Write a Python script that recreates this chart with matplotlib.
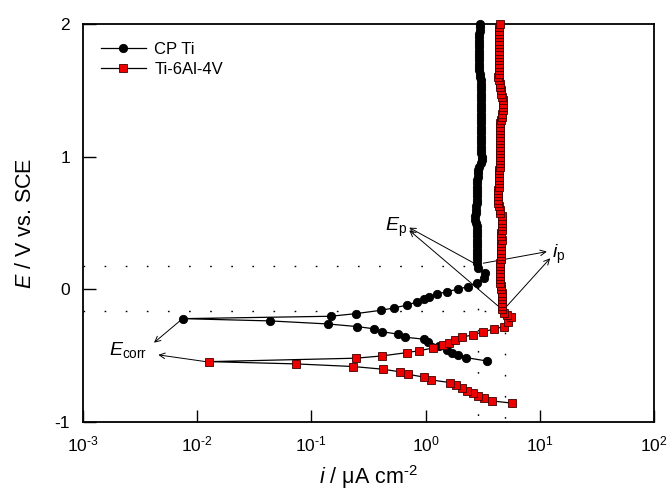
import numpy as np
from matplotlib import pyplot as plt
from matplotlib.ticker import FuncFormatter

plt.rcParams["font.family"] = ["Liberation Sans", "DejaVu Sans"]
plt.rcParams["mathtext.fontset"] = "custom"
plt.rcParams["mathtext.rm"] = "Liberation Sans"
plt.rcParams["mathtext.it"] = "Liberation Sans:italic"
plt.rcParams["axes.unicode_minus"] = False

RED = (0.93, 0.0, 0.0)
BLACK = (0, 0, 0)

# CP Ti, scan order: cathodic branch -> Ecorr -> anodic branch -> passive
cp_cath_E = [-0.540, -0.515, -0.494, -0.481, -0.456, -0.426, -0.394, -0.376, -0.361,
             -0.338, -0.319, -0.298, -0.281, -0.261, -0.238, -0.221]
cp_cath_i = [3.44, 2.27, 1.94, 1.70, 1.54, 1.30, 1.06, 0.978, 0.663,
             0.573, 0.415, 0.357, 0.254, 0.140, 0.0437, 0.0075]
cp_anod_E = [-0.203, -0.183, -0.158, -0.140, -0.118, -0.093, -0.070, -0.055, -0.037,
             -0.017, 0.001, 0.020, 0.050, 0.084, 0.121, 0.159, 0.197]
cp_anod_i = [0.148, 0.247, 0.406, 0.531, 0.695, 0.849, 0.977, 1.07, 1.26,
             1.53, 1.92, 2.34, 2.81, 3.26, 3.32, 2.90, 2.81]
cp_pass_E = [0.225, 0.25, 0.275, 0.3, 0.325, 0.35, 0.375, 0.4, 0.425, 0.45, 0.475, 0.5,
             0.525, 0.55, 0.575, 0.6, 0.625, 0.65, 0.675, 0.7, 0.725, 0.75, 0.775, 0.8,
             0.825, 0.85, 0.875, 0.9, 0.925, 0.95, 0.975, 1.0, 1.025, 1.05, 1.075, 1.1,
             1.125, 1.15, 1.175, 1.2, 1.225, 1.25, 1.275, 1.3, 1.325, 1.35, 1.375, 1.4,
             1.425, 1.45, 1.475, 1.5, 1.525, 1.55, 1.575, 1.6, 1.625, 1.65, 1.675, 1.7,
             1.725, 1.75, 1.775, 1.8, 1.825, 1.85, 1.875, 1.9, 1.925, 1.95, 1.975, 2.0]
cp_pass_i = [2.80, 2.80, 2.81, 2.82, 2.82, 2.83, 2.84, 2.84, 2.84, 2.83, 2.80, 2.76,
             2.73, 2.72, 2.74, 2.77, 2.79, 2.80, 2.81, 2.81, 2.81, 2.81, 2.82, 2.83,
             2.84, 2.86, 2.88, 2.90, 2.95, 3.03, 3.10, 3.10, 3.08, 3.07, 3.07, 3.07,
             3.06, 3.07, 3.08, 3.07, 3.07, 3.06, 3.07, 3.07, 3.08, 3.07, 3.07, 3.07,
             3.07, 3.06, 3.06, 3.05, 3.05, 3.05, 3.04, 3.02, 2.99, 2.96, 2.93, 2.92,
             2.91, 2.91, 2.91, 2.92, 2.92, 2.93, 2.94, 2.95, 2.96, 2.97, 2.99, 3.01]

# Ti-6Al-4V
ti_cath_E = [-0.858, -0.841, -0.821, -0.801, -0.783, -0.763, -0.745, -0.723, -0.703,
             -0.683, -0.662, -0.640, -0.622, -0.602, -0.582, -0.562, -0.545]
ti_cath_i = [5.73, 3.80, 3.26, 2.90, 2.59, 2.30, 2.08, 1.85, 1.64,
             1.12, 0.972, 0.700, 0.600, 0.423, 0.234, 0.0733, 0.0128]
ti_anod_E = [-0.519, -0.502, -0.477, -0.462, -0.442, -0.421, -0.402, -0.381, -0.359,
             -0.344, -0.319, -0.300, -0.281, -0.243, -0.208, -0.193]
ti_anod_i = [0.247, 0.415, 0.686, 0.885, 1.17, 1.42, 1.61, 1.82, 2.10,
             2.60, 3.21, 3.96, 4.81, 5.21, 5.61, 5.14]
ti_pass_E = [-0.175, -0.15, -0.125, -0.1, -0.075, -0.05, -0.025, 0.0, 0.025, 0.05,
             0.075, 0.1, 0.125, 0.15, 0.175, 0.2, 0.225, 0.25, 0.275, 0.3, 0.325, 0.35,
             0.375, 0.4, 0.425, 0.45, 0.475, 0.5, 0.525, 0.55, 0.575, 0.6, 0.625, 0.65,
             0.675, 0.7, 0.725, 0.75, 0.775, 0.8, 0.825, 0.85, 0.875, 0.9, 0.925, 0.95,
             0.975, 1.0, 1.025, 1.05, 1.075, 1.1, 1.125, 1.15, 1.175, 1.2, 1.225, 1.25,
             1.275, 1.3, 1.325, 1.35, 1.375, 1.4, 1.425, 1.45, 1.475, 1.5, 1.525, 1.55,
             1.575, 1.6, 1.625, 1.65, 1.675, 1.7, 1.725, 1.75, 1.775, 1.8, 1.825, 1.85,
             1.875, 1.9, 1.925, 1.95, 1.975, 2.0]
ti_pass_i = [4.90, 4.70, 4.64, 4.62, 4.64, 4.66, 4.64, 4.60, 4.56, 4.52,
             4.50, 4.48, 4.50, 4.52, 4.50, 4.50, 4.54, 4.58, 4.60, 4.59, 4.58, 4.60,
             4.62, 4.60, 4.59, 4.62, 4.66, 4.70, 4.68, 4.62, 4.52, 4.45, 4.40, 4.32,
             4.27, 4.26, 4.28, 4.32, 4.36, 4.40, 4.42, 4.42, 4.41, 4.42, 4.45, 4.48,
             4.50, 4.50, 4.50, 4.51, 4.50, 4.49, 4.50, 4.52, 4.50, 4.49, 4.50, 4.52,
             4.58, 4.64, 4.70, 4.74, 4.76, 4.76, 4.74, 4.68, 4.60, 4.54, 4.50, 4.46,
             4.40, 4.34, 4.36, 4.40, 4.42, 4.41, 4.40, 4.40, 4.41, 4.42, 4.41, 4.40,
             4.41, 4.42, 4.42, 4.43, 4.43, 4.44]

# passivation potentials / currents (guide lines)
ep_cp, ep_ti = 0.175, -0.163
ip_cp, ip_ti = 2.88, 4.97

cp_E = cp_cath_E + cp_anod_E + cp_pass_E
cp_i = cp_cath_i + cp_anod_i + cp_pass_i
ti_E = ti_cath_E + ti_anod_E + ti_pass_E
ti_i = ti_cath_i + ti_anod_i + ti_pass_i


def decade_label(x, pos):
    n = int(round(np.log10(x)))
    if n < 0:
        return r"$\mathdefault{10^{\text{-}%d}}$" % (-n)
    return r"$\mathdefault{10^{%d}}$" % n


fig = plt.figure(figsize=(6.71, 5.0), dpi=100)
ax = fig.add_axes([0.123, 0.156, 0.852, 0.796])

# dotted guide lines
dots = dict(color=BLACK, lw=1.0, linestyle=(0, (1.2, 14)))
ax.plot([1e-3, ip_cp], [ep_cp, ep_cp], **dots)
ax.plot([1e-3, 4.6], [ep_ti, ep_ti], **dots)
ax.plot([ip_cp, ip_cp], [ep_cp, -1], **dots)
ax.plot([ip_ti, ip_ti], [ep_ti, -1], **dots)

ax.plot(cp_i, cp_E, "-", color=BLACK, lw=0.9, marker="o", ms=6, mfc=BLACK,
        mec=BLACK, mew=0.6, label="CP Ti", clip_on=False, zorder=3)
ax.plot(ti_i, ti_E, "-", color=BLACK, lw=0.9, marker="s", ms=5.8, mfc=RED,
        mec=(0.25, 0, 0), mew=0.6, label="Ti-6Al-4V", clip_on=False, zorder=4)

ax.set_xscale("log")
ax.set_xlim(1e-3, 1e2)
ax.set_ylim(-1, 2)
ax.set_yticks([-1, 0, 1, 2])
ax.minorticks_off()
ax.xaxis.set_major_formatter(FuncFormatter(decade_label))
ax.tick_params(direction="in", length=9, width=1.0, labelsize=12.5, pad=9)
for s in ax.spines.values():
    s.set_linewidth(1.3)

ax.set_xlabel(r"$\mathit{i}$ / μA cm$^{\text{-}2}$", fontsize=15.5, labelpad=6)
ax.set_ylabel(r"$\mathit{E}$ / V vs. SCE", fontsize=15.5, labelpad=13)

leg = ax.legend(loc="upper left", frameon=False, fontsize=12, handlelength=2.7,
                labelspacing=0.25, borderaxespad=0.7, handletextpad=0.5)

arrow = dict(arrowstyle="->", lw=0.7, color=BLACK, shrinkA=0, shrinkB=0,
             mutation_scale=10)

# E_corr
ax.text(0.0017, -0.457, r"$\mathit{E}_{\mathrm{corr}}$", fontsize=14,
        ha="left", va="center")
ax.annotate("", xy=(0.00422, -0.402), xytext=(0.0074, -0.225), arrowprops=arrow)
ax.annotate("", xy=(0.0046, -0.494), xytext=(0.0122, -0.546), arrowprops=arrow)

# E_p
ax.text(0.44, 0.47, r"$\mathit{E}_{\mathrm{p}}$", fontsize=14, ha="left", va="center")
ax.annotate("", xy=(0.72, 0.465), xytext=(2.75, 0.19), arrowprops=arrow)
ax.annotate("", xy=(0.72, 0.445), xytext=(4.8, -0.16), arrowprops=arrow)

# i_p
ax.text(12.8, 0.26, r"$\mathit{i}_{\mathrm{p}}$", fontsize=14, ha="left", va="center")
ax.annotate("", xy=(11.5, 0.284), xytext=(3.2, 0.197), arrowprops=arrow)
ax.annotate("", xy=(12.3, 0.234), xytext=(4.8, -0.155), arrowprops=arrow)

plt.savefig("out.png", dpi=100)
